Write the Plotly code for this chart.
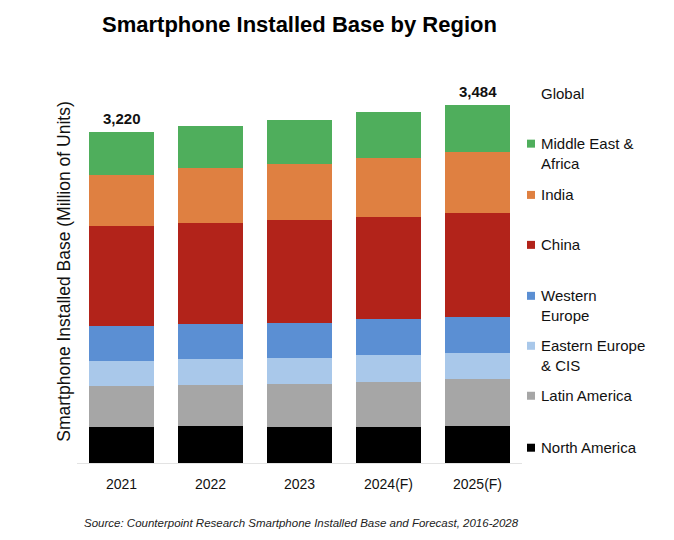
import plotly.graph_objects as go

years = ["2021", "2022", "2023", "2024(F)", "2025(F)"]
north_america = [350, 356, 355, 353, 360]
latin_america = [395, 399, 415, 438, 457]
eastern_europe_cis = [250, 257, 253, 260, 252]
western_europe = [340, 340, 344, 350, 353]
china = [974, 983, 995, 998, 1015]
india = [496, 535, 548, 568, 590]
middle_east_africa = [415, 414, 432, 447, 457]
totals_shown = {"2021": "3,220", "2025(F)": "3,484"}

series = [
    ("North America", north_america, "#000000"),
    ("Latin America", latin_america, "#A6A6A6"),
    ("Eastern Europe<br>& CIS", eastern_europe_cis, "#A9C8EA"),
    ("Western<br>Europe", western_europe, "#5B8FD3"),
    ("China", china, "#B2231A"),
    ("India", india, "#DF8041"),
    ("Middle East &<br>Africa", middle_east_africa, "#4FAE5C"),
]

REG = "Liberation Sans, Arial, sans-serif"
xpos = list(range(len(years)))

fig = go.Figure()
for name, vals, col in series:
    fig.add_trace(go.Bar(x=xpos, y=vals, name=name, marker=dict(color=col, line=dict(width=0)),
                         showlegend=False, hoverinfo="skip"))

totals = [sum(v) for v in zip(*[s[1] for s in series])]
for i, (yr, tot) in enumerate(zip(years, totals)):
    if yr in totals_shown:
        fig.add_annotation(x=i, y=tot, text="<b>" + totals_shown[yr] + "</b>", showarrow=False,
                           yanchor="bottom", yshift=3, font=dict(family=REG, size=15, color="#111"))

# plot area geometry (pixels)
L, R, T, B = 76.5, 522, 80, 463.3
W, H = R - L, B - T

def px(xp):
    return (xp - L) / W

def py(yp):
    return (B - yp) / H

# custom legend
legend_rows = [
    ("Global", None, 92.7),
    ("Middle East &<br>Africa", "#4FAE5C", 142.7),
    ("India", "#DF8041", 194),
    ("China", "#B2231A", 244),
    ("Western<br>Europe", "#5B8FD3", 295),
    ("Eastern Europe<br>& CIS", "#A9C8EA", 345),
    ("Latin America", "#A6A6A6", 395),
    ("North America", "#000000", 447),
]
for text, col, yc in legend_rows:
    fig.add_annotation(xref="paper", yref="paper", x=px(539), y=py(yc - 10), xanchor="left", yanchor="top",
                       text=text, showarrow=False, align="left",
                       font=dict(family=REG, size=15, color="#111"))
    if col:
        fig.add_shape(type="rect", xref="paper", yref="paper",
                      x0=px(527), x1=px(535), y0=py(yc + 5), y1=py(yc - 3),
                      fillcolor=col, line=dict(width=0))

fig.update_layout(
    width=674, height=540,
    margin=dict(l=L, r=674 - R, t=T, b=540 - B, autoexpand=False),
    barmode="stack", bargap=0.26,
    plot_bgcolor="white", paper_bgcolor="white",
    title=dict(text="<b>Smartphone Installed Base by Region</b>", x=0.5, xanchor="center", xref="paper",
               y=1 - 24 / 540, yanchor="middle", yref="container",
               font=dict(family=REG, size=22, color="#000")),
    xaxis=dict(range=[-0.5, len(years) - 0.5], tickmode="array", tickvals=xpos, ticktext=years,
               showline=True, linecolor="#E3E3E3", linewidth=1, ticks="", showgrid=False, zeroline=False,
               ticklabelstandoff=8,
               tickfont=dict(family=REG, size=14, color="#111")),
    yaxis=dict(range=[0, (B - T) * 9.728], showticklabels=False, showgrid=False, zeroline=False,
               title=dict(text="Smartphone Installed Base (Million of Units)", standoff=0,
                          font=dict(family=REG, size=17.5, color="#111"))),
    font=dict(family=REG),
)
fig.add_annotation(xref="paper", yref="paper", x=px(301.5), y=py(523), xanchor="center", yanchor="middle",
                   text="<i>Source: Counterpoint Research Smartphone Installed Base and Forecast, 2016-2028</i>",
                   showarrow=False, font=dict(family=REG, size=11.5, color="#222"))

fig.write_html("out.html", post_script="document.body.style.margin='0px';",
               config={"displayModeBar": False})
